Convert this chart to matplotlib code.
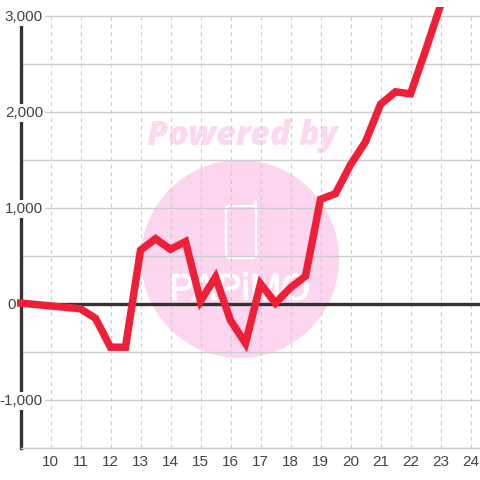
import matplotlib
matplotlib.use('Agg')
import matplotlib.pyplot as plt
import matplotlib.patheffects as pe
from matplotlib.patches import Circle, FancyBboxPatch, Rectangle

# values
hours = [8.5, 9, 10, 11, 11.5, 12, 12.5, 13, 13.5, 14, 14.5, 15, 15.5, 16, 16.5, 17, 17.5,
         18, 18.5, 19, 19.5, 20, 20.5, 21, 21.5, 22, 22.5, 23]
values = [15, 10, -20, -50, -150, -450, -450, 560, 680, 570, 650, 30, 280, -170, -410, 210, 10,
          170, 290, 1090, 1150, 1450, 1690, 2080, 2210, 2190, 2640, 3110]
x_ticks = list(range(10, 25))
y_labels = [3000, 2000, 1000, 0, -1000]
y_minor = [2500, 1500, 500, -500, -1500]

plt.rcParams['font.family'] = ['Liberation Sans', 'DejaVu Sans']
text_color = '#444444'
grid_color = '#cccccc'
pink = '#fbd6ee'

fig = plt.figure(figsize=(4.8, 4.8), dpi=100)

# watermark, in pixel coordinates
bg = fig.add_axes([0, 0, 1, 1])
bg.set_xlim(0, 480)
bg.set_ylim(480, 0)
bg.axis('off')
bg.add_patch(Circle((240, 259), 99, color=pink, lw=0))
bg.text(242, 136, 'Powered by', family='Open Sans', weight='extra bold', style='italic', fontsize=24.5,
        color='#fcd9f0', ha='center', va='center')
bg.add_patch(FancyBboxPatch((226, 206), 30, 52, boxstyle='round,pad=0,rounding_size=4',
                            fc='none', ec='white', lw=1.6))
bg.plot([255, 255], [201, 208], color='white', lw=2.2, solid_capstyle='round')
bg.text(240, 290, 'PAPiMO', family='Liberation Sans', fontsize=27, color='white',
        ha='center', va='center', path_effects=[pe.withStroke(linewidth=0.9, foreground='white')])

ax = fig.add_axes([20.5 / 480, 32 / 480, 459.5 / 480, 432 / 480])
ax.patch.set_alpha(0)
ax.set_xlim(9, 9 + 459.5 / 30)
ax.set_ylim(-1500, 3000)

for s in ['top', 'right']:
    ax.spines[s].set_visible(False)
ax.spines['left'].set_color('#333333')
ax.spines['left'].set_linewidth(2.4)
ax.spines['left'].set_zorder(2.5)
ax.spines['bottom'].set_color(grid_color)
ax.spines['bottom'].set_linewidth(1.0)

ax.set_xticks(x_ticks)
ax.set_yticks(y_labels + y_minor)
ax.set_yticklabels([])
ax.tick_params(length=0, labelsize=11, labelcolor=text_color, pad=5)
ax.grid(axis='y', color=grid_color, lw=1.0, clip_on=False)
ax.grid(axis='x', color=grid_color, lw=0.8, ls=(0, (3.5, 3.5)))
ax.set_axisbelow(True)

ax.axhline(0, color='#333333', lw=2.4, zorder=2)
line, = ax.plot(hours, values, color='#f01f38', lw=5.4, solid_joinstyle='miter', solid_capstyle='butt',
                zorder=4)
line.set_clip_path(Rectangle((17, 7), 463, 473, transform=bg.transData))

# y labels sit on white boxes that hide the axis line behind them
for v in y_labels:
    right = 16 if v == 0 else 43
    ax.annotate(f'{v:,}', (0, v), xycoords=ax.get_yaxis_transform(), xytext=(right - 20.5, -1),
                textcoords='offset pixels', ha='right', va='center', fontsize=11, color=text_color,
                bbox=dict(fc='white', ec='none', pad=1.5), zorder=3, annotation_clip=False)

fig.savefig('out.png', dpi=100)
